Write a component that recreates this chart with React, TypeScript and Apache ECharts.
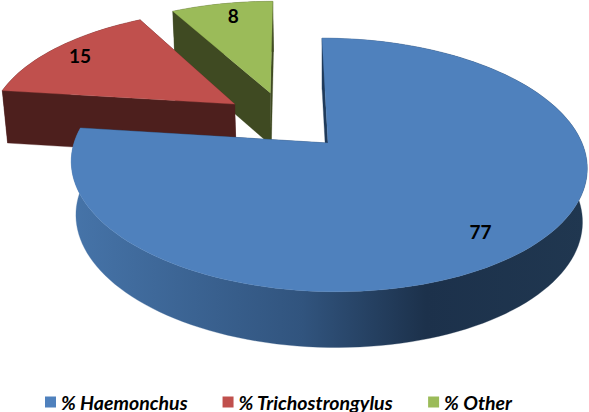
import React, { useEffect, useRef } from "react";
import * as echarts from "echarts";

const categories = ["% Haemonchus", "% Trichostrongylus", "% Other"];
const seriesValues = [77, 15, 8];
const topColors = ["#4F81BD", "#C0504D", "#9BBB59"];
const wallColors = ["#1F3A5A", "#4D1F1D", "#3F4A22"];

const CX = 328, CY = 143, RX = 254, RY = 123, SHEAR = 7, K = 0.173, M = 0.018, DEPTH = 54.5, FLATTEN = 0.038;
const EXPLODE = 0.255, LABEL_FRACTION = 0.85;
const LABEL_NUDGE = [-13, -2, 5];
const total = seriesValues.reduce((a, b) => a + b, 0);
const toAngle = (v: number) => (v / total) * Math.PI * 2;

const project = (u: number, v: number, z: number) => {
  const w = 1 - K * v + M * z;
  return [
    CX + (RX * u + SHEAR * v) / w,
    CY + (RY * (1 - FLATTEN * z) * v + DEPTH * z) / w,
  ];
};
const dir = (a: number) => [Math.sin(a), -Math.cos(a)];

const sliceRange = (i: number) => {
  const before = seriesValues.slice(0, i).reduce((a, b) => a + b, 0);
  const a0 = toAngle(before);
  return [a0, a0 + toAngle(seriesValues[i])];
};
const midDir = (i: number) => {
  const [a0, a1] = sliceRange(i);
  return dir((a0 + a1) / 2);
};

const sideGradient = new echarts.graphic.LinearGradient(
  CX - RX - 4, 0, CX + RX + 4, 0,
  [
    { offset: 0, color: "#4674A9" },
    { offset: 0.45, color: "#31547E" },
    { offset: 0.69, color: "#1C314B" },
    { offset: 1, color: "#203750" },
  ],
  true
);

const buildSlice = (i: number, value: number) => {
  const [a0, a1] = sliceRange(i);
  const md = midDir(i);
  const base = midDir(0);
  const ox = EXPLODE * (md[0] - base[0]);
  const oy = EXPLODE * (md[1] - base[1]);
  const steps = Math.max(8, Math.round(((a1 - a0) / (Math.PI * 2)) * 180));
  const rim = (z: number) => {
    const pts: number[][] = [];
    for (let s = 0; s <= steps; s++) {
      const d = dir(a0 + ((a1 - a0) * s) / steps);
      pts.push(project(ox + d[0], oy + d[1], z));
    }
    return pts;
  };
  const topRim = rim(0);
  const botRim = rim(1);
  const apexTop = project(ox, oy, 0);
  const apexBot = project(ox, oy, 1);
  const wallFill = wallColors[i];
  const poly = (points: number[][], fill: any) => ({
    type: "polygon",
    shape: { points },
    style: { fill, stroke: fill, lineWidth: 0.3 },
  });
  const lp = project(
    ox + md[0] * LABEL_FRACTION,
    oy + md[1] * LABEL_FRACTION,
    0
  );
  return {
    type: "group",
    children: [
      poly([apexTop, topRim[steps], botRim[steps], apexBot], wallFill),
      poly([...topRim, ...botRim.slice().reverse()], i === 0 ? sideGradient : wallFill),
      poly([apexTop, topRim[0], botRim[0], apexBot], wallFill),
      poly([apexTop, ...topRim], topColors[i]),
      {
        type: "text",
        style: {
          x: lp[0] + LABEL_NUDGE[i],
          y: lp[1],
          text: String(value),
          fill: "#000",
          font: "bold 19px Lato",
          align: "center",
          verticalAlign: "middle",
        },
      },
    ],
  };
};

export default function App() {
  const ref = useRef<HTMLDivElement>(null);
  useEffect(() => {
    const chart = echarts.init(ref.current!, undefined, { renderer: "svg" });
    chart.setOption({
      animation: false,
      backgroundColor: "#fff",
      legend: {
        data: categories,
        left: 45,
        top: 392,
        padding: 0,
        itemWidth: 11,
        itemHeight: 11,
        itemGap: 35,
        icon: "rect",
        textStyle: {
          fontFamily: "Lato",
          fontSize: 19.5,
          fontStyle: "italic",
          fontWeight: "bold",
          color: "#000",
        },
      },
      series: categories.map((name, i) => ({
        type: "custom",
        name,
        coordinateSystem: "none",
        z: i === 0 ? 5 : 5 - i,
        itemStyle: { color: topColors[i] },
        data: [[seriesValues[i]]],
        renderItem: (_p: any, api: any) => buildSlice(i, api.value(0)),
      })),
    });
    return () => chart.dispose();
  }, []);
  return (
    <div
      ref={ref}
      style={{ position: "absolute", left: 0, top: 0, width: 589, height: 412 }}
    />
  );
}
